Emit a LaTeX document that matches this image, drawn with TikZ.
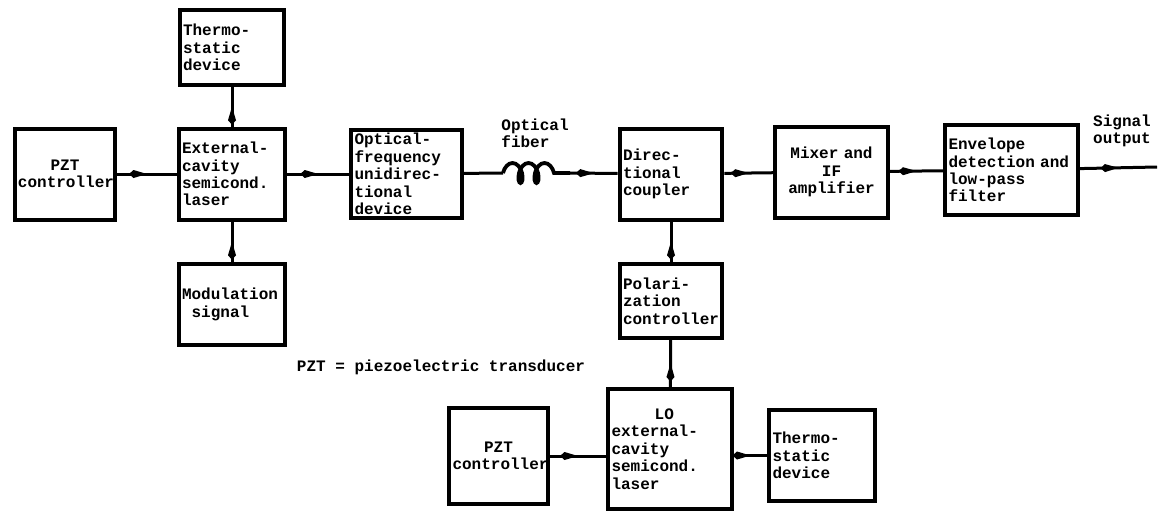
\documentclass[tikz,border=0pt]{standalone}
\usepackage{fontspec}
\setmonofont{Liberation Mono}
\usetikzlibrary{arrows.meta, decorations.markings, decorations.pathmorphing}
\tikzstyle{box}   = [rectangle, draw=black, line width=2pt, inner xsep=1.7pt,
                     inner ysep=1pt, align=left,
                     font=\ttfamily\bfseries\fontsize{8}{8.7}\selectfont]
\tikzstyle{lbl}   = [inner sep=0pt, align=left,
                     font=\ttfamily\bfseries\fontsize{8}{8.7}\selectfont]
\tikzstyle{conn}  = [line width=1.5pt, postaction={decorate},
                     decoration={markings, mark=at position 0.5 with
                       {\arrow{Kite[length=9pt,width=4pt]}}}]
\tikzstyle{fiber} = [line width=1.9pt, decorate,
                     decoration={coil, aspect=0.55, amplitude=5pt, segment length=8pt}]

\begin{document}
\begin{tikzpicture}[x=0.5pt, y=-0.5pt]
  \useasboundingbox (0,0) rectangle (1160,514);

  % transmitter side
  \node[box, align=center, text width=47pt, minimum height=45.5pt] (pztL) at (65,174) {PZT\\controller};
  \node[box, text width=50pt, minimum height=45.5pt] (laser) at (232,174) {External-\\cavity\\semicond.\\laser};
  \node[box, text width=49pt, minimum height=37.5pt] (thermoT) at (232,47.5) {Thermo-\\static\\device};
  \node[box, text width=50pt, minimum height=40.5pt] (mod) at (232,304.5) {Modulation\\\hspace*{4.8pt}signal};
  \node[box, text width=52pt, minimum height=44pt] (optdev) at (406.5,174) {Optical-\\frequency\\unidirec-\\tional\\device};

  % fiber
  \coordinate (fA) at (503,173);
  \coordinate (fB) at (570,173);
  \node[lbl] (fibLbl) at (535,133) {Optical\\fiber};

  % receiver side
  \node[box, text width=48pt, minimum height=45.5pt] (coupler) at (671,174) {Direc-\\tional\\coupler};
  \node[box, align=center, text width=53pt, minimum height=45.5pt] (mixer) at (831.5,172) {Mixer and\\IF\\amplifier};
  \node[box, text width=63pt, minimum height=45pt] (env) at (1011.5,170) {Envelope\\detection and\\low-pass\\filter};
  \coordinate (out) at (1157,167);
  \node[lbl] (outLbl) at (1122,131) {Signal\\output};

  % local oscillator
  \node[box, text width=48pt, minimum height=37pt] (pol) at (671,301) {Polari-\\zation\\controller};
  \node[box, text width=58.5pt, minimum height=60pt] (lo) at (670,449) {\hspace*{2.7em}LO\\external-\\cavity\\semicond.\\laser};
  \node[box, align=center, text width=46pt, minimum height=48pt] (pztB) at (498.5,456) {PZT\\controller};
  \node[box, text width=49.5pt, minimum height=45.5pt] (thermoB) at (822,455.5) {Thermo-\\static\\device};

  \node[lbl] (note) at (441,367) {PZT = piezoelectric transducer};

  \draw[conn] (pztL) -- (laser);
  \draw[conn] (laser) -- (thermoT);
  \draw[conn] (mod) -- (laser);
  \draw[conn] (laser) -- (optdev);
  \draw[line width=1.5pt] (optdev) -- (fA);
  \draw[fiber] (fA) -- (fB);
  \draw[conn] (fB) -- (coupler);
  \draw[conn] (coupler) -- (mixer);
  \draw[conn] (mixer) -- (env);
  \draw[conn] (env) -- (out);
  \draw[conn] (pol) -- (coupler);
  \draw[conn] (lo) -- (pol);
  \draw[conn] (pztB) -- (pztB -| lo.west);
  \draw[conn] (thermoB -| lo.east) -- (thermoB);
\end{tikzpicture}
\end{document}
